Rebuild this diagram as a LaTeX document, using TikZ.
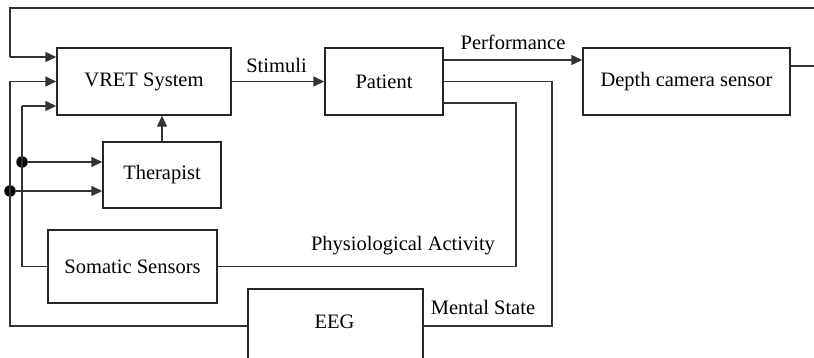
\documentclass[tikz,border=0pt]{standalone}
\usepackage{fontspec}
\setmainfont{Liberation Serif}
\usetikzlibrary{arrows.meta}
\begin{document}
\begin{tikzpicture}[x=1pt,y=-1pt,
  box/.style={draw=black!85,line width=1.5pt,inner sep=0pt,font=\fontsize{20.5}{24}\selectfont},
  conn/.style={draw=black!80,line width=1.5pt},
  arr/.style={conn,-{Triangle[length=11pt,width=10pt]}},
  lbl/.style={font=\fontsize{20.5}{24}\selectfont,inner sep=0pt},
  dot/.style={circle,fill=black,inner sep=0pt,minimum size=11.5pt}]
\useasboundingbox (0,0) rectangle (814,358);
\clip (0,0) rectangle (814,358);
\node[box,minimum width=174pt,minimum height=67pt] (vret) at (144,81.5) {VRET System};
\node[box,minimum width=118pt,minimum height=67pt] (patient) at (384,81.5) {Patient};
\node[box,minimum width=207pt,minimum height=67pt] (depth) at (686.5,81.5) {Depth camera sensor};
\node[box,minimum width=118pt,minimum height=66pt] (therapist) at (162,175) {Therapist};
\node[box,minimum width=169pt,minimum height=73pt] (somatic) at (132.5,266.5) {Somatic Sensors};
\node[box,minimum width=175pt,minimum height=100pt,anchor=north west] (eeg) at (247,288) {};
\node[lbl] (eegtxt) at (334.5,322) {EEG};
\coordinate (eegl) at (247,326);
\coordinate (eegr) at (422,326);
\coordinate (farright) at (840,66);
\node[dot] (d1) at (10,191) {};
\node[dot] (d2) at (22,162) {};
% labels
\node[lbl] (lstim) at (276.5,65) {Stimuli};
\node[lbl] (lperf) at (513,42) {Performance};
\node[lbl] (lphys) at (403,246) {Physiological Activity};
\node[lbl] (lment) at (483,307) {Mental State};
% connectors
\draw[arr] (vret.east) -- (patient.west);
\draw[arr] (patient.east |- 0,60) -- (depth.west |- 0,60);
\draw[conn] (depth.east |- 0,66) -- (farright) -- (840,8) -- (10,8) -- (10,57) ;
\draw[arr] (10,57) -- (vret.west |- 0,57);
\draw[conn] (patient.east) -- (552,81.5) |- (eegr);
\draw[conn] (patient.east |- 0,103) -- (516,103) |- (somatic.east);
\draw[conn] (eegl) -| (10,81.5);
\draw[arr] (10,81.5) -- (vret.west);
\draw[arr] (d1) -- (therapist.west |- d1);
\draw[conn] (somatic.west) -| (22,106);
\draw[arr] (22,106) -- (vret.west |- 0,106);
\draw[arr] (d2) -- (therapist.west |- d2);
\draw[arr] (therapist.north) -- (vret.south -| therapist.north);
\end{tikzpicture}
\end{document}
